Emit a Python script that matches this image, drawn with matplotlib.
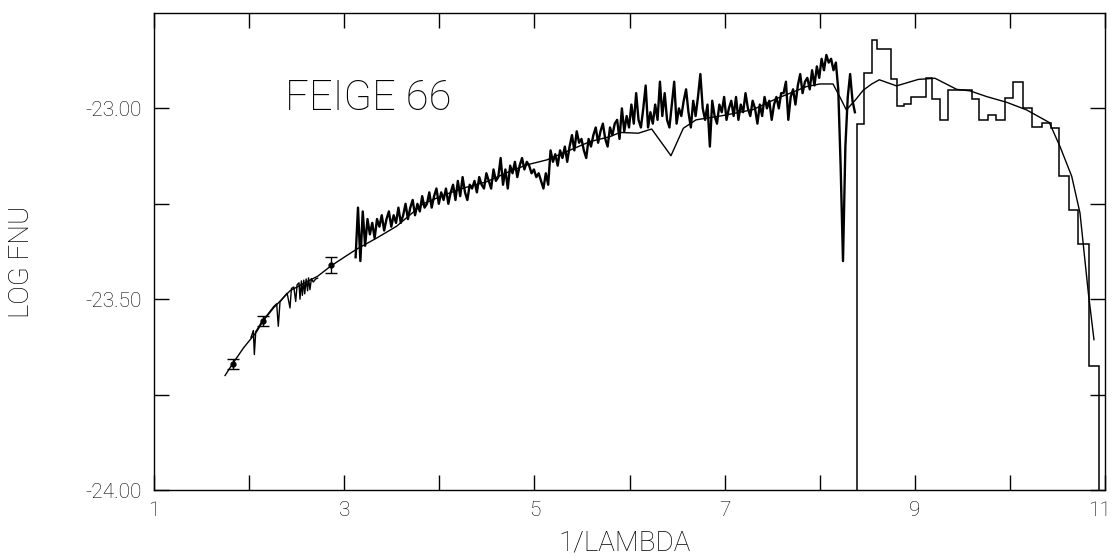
import numpy as np
import matplotlib
matplotlib.use("Agg")
import matplotlib.pyplot as plt
import matplotlib.transforms as mtransforms

plt.rcParams['font.family'] = ['Roboto', 'DejaVu Sans']
plt.rcParams['font.weight'] = 'light'

# ---------------- data ----------------
# model atmosphere curve
model_x = [1.747, 1.83, 1.94, 2.08, 2.15, 2.26, 2.43, 2.60, 2.72, 2.86, 3.00, 3.13,
           3.34, 3.55, 3.83, 4.04, 4.25, 4.50, 4.74, 4.92, 5.13, 5.34, 5.585, 5.795,
           5.90, 6.093, 6.233, 6.436, 6.566, 6.70, 7.00, 7.30, 7.54, 7.86, 8.00, 8.14,
           8.21, 8.28, 8.375, 8.459, 8.547, 8.627, 8.808, 9.037, 9.212, 9.44, 9.58,
           9.755, 9.966, 10.176, 10.414, 10.527, 10.65, 10.737, 10.825, 10.884]
model_y = [-23.700, -23.668, -23.628, -23.585, -23.556, -23.522, -23.478, -23.455,
           -23.440, -23.413, -23.390, -23.369, -23.340, -23.309, -23.250, -23.228,
           -23.209, -23.192, -23.165, -23.148, -23.135, -23.113, -23.087, -23.074,
           -23.063, -23.065, -23.054, -23.124, -23.052, -23.030, -23.018, -23.003,
           -22.975, -22.943, -22.936, -22.936, -22.969, -23.004, -22.978, -22.952,
           -22.936, -22.925, -22.941, -22.924, -22.921, -22.950, -22.954, -22.969,
           -22.984, -23.004, -23.037, -23.100, -23.178, -23.274, -23.484, -23.606]

# optical spectrum
opt_x = [2.02, 2.045, 2.055, 2.07, 2.10, 2.14, 2.18, 2.22, 2.26, 2.29, 2.307, 2.325,
         2.36, 2.40, 2.43, 2.445, 2.47, 2.49, 2.505, 2.525, 2.535, 2.55, 2.56, 2.575,
         2.585, 2.60, 2.615, 2.625, 2.64, 2.655, 2.675, 2.70, 2.72]
opt_y = [-23.600, -23.582, -23.645, -23.585, -23.573, -23.556, -23.545, -23.532,
         -23.519, -23.512, -23.571, -23.507, -23.496, -23.484, -23.523, -23.472,
         -23.468, -23.506, -23.462, -23.457, -23.500, -23.452, -23.490, -23.450,
         -23.486, -23.447, -23.478, -23.444, -23.475, -23.446, -23.455, -23.447,
         -23.445]

# IUE ultraviolet spectrum (grid 3.12 .. 8.37 step 0.025)
iue_x = np.linspace(3.12, 8.37, 211)
iue_y = [
    -23.39, -23.26, -23.40, -23.27, -23.36, -23.29, -23.33, -23.30, -23.34, -23.29,
    -23.31, -23.28, -23.32, -23.29, -23.27, -23.31, -23.28, -23.30, -23.26, -23.30,
    -23.28, -23.25, -23.29, -23.26, -23.24, -23.28, -23.25, -23.27, -23.23, -23.26,
    -23.25, -23.22, -23.26, -23.23, -23.21, -23.25, -23.22, -23.24, -23.21, -23.25,
    -23.22, -23.20, -23.24, -23.19, -23.23, -23.18, -23.22, -23.24, -23.20, -23.21,
    -23.19, -23.22, -23.18, -23.20, -23.21, -23.17, -23.19, -23.21, -23.16, -23.19,
    -23.18, -23.13, -23.20, -23.16, -23.21, -23.15, -23.17, -23.14, -23.18, -23.15,
    -23.13, -23.16, -23.14, -23.15, -23.17, -23.16, -23.18, -23.17, -23.19, -23.21,
    -23.17, -23.20, -23.11, -23.14, -23.12, -23.15, -23.11, -23.13, -23.10, -23.14,
    -23.10, -23.07, -23.11, -23.06, -23.09, -23.08, -23.11, -23.13, -23.08, -23.10,
    -23.07, -23.05, -23.09, -23.06, -23.04, -23.08, -23.10, -23.05, -23.07, -23.04,
    -23.03, -23.08, -23.00, -23.06, -23.02, -23.05, -22.99, -23.04, -22.96, -23.03,
    -23.05, -23.00, -22.94, -23.05, -23.01, -23.04, -22.99, -23.03, -22.93, -23.02,
    -22.96, -23.03, -23.05, -22.99, -22.93, -23.04, -23.00, -23.02, -22.98, -22.95,
    -23.01, -23.05, -22.98, -23.02, -22.97, -22.91, -23.00, -23.03, -22.99, -23.10,
    -22.98, -23.02, -23.04, -22.99, -23.01, -22.97, -23.03, -23.00, -22.98, -23.02,
    -22.97, -23.03, -22.99, -23.01, -22.96, -23.00, -23.02, -22.98, -23.00, -23.04,
    -22.99, -23.02, -22.97, -23.00, -22.98, -23.03, -22.99, -22.97, -23.00, -22.96,
    -22.96, -22.93, -23.03, -22.97, -22.95, -22.99, -22.94, -22.91, -22.96, -22.93,
    -22.92, -22.95, -22.90, -22.94, -22.89, -22.92, -22.87, -22.90, -22.86, -22.88,
    -22.87, -22.90, -22.88, -22.95, -23.15, -23.40, -23.10, -22.97, -22.91, -22.98,
    -23.01,
]

# far-UV binned spectrum (histogram)
hist_edges = [8.396, 8.469, 8.547, 8.599, 8.750, 8.816, 8.886, 8.957, 9.118, 9.185,
              9.265, 9.353, 9.598, 9.679, 9.766, 9.854, 9.949, 10.036, 10.134,
              10.229, 10.334, 10.429, 10.520, 10.625, 10.720, 10.835, 10.941]
hist_levels = [-23.041, -22.906, -22.821, -22.844, -22.924, -22.995, -22.988,
               -22.971, -22.921, -22.976, -23.030, -22.952, -22.976, -23.030,
               -23.017, -23.030, -22.973, -22.930, -22.998, -23.048, -23.039,
               -23.052, -23.178, -23.266, -23.356, -23.674]

# photometric points with error bars
phot_x = [1.827, 2.142, 2.861]
phot_y = [-23.670, -23.558, -23.410]
phot_err = [0.013, 0.013, 0.021]

xticks = [1, 2, 3, 4, 5, 6, 7, 8, 9, 10, 11]
xticklabels = ['1', '', '3', '', '5', '', '7', '', '9', '', '11']
yticks = [-24.0, -23.75, -23.5, -23.25, -23.0]
yticklabels = ['-24.00', '', '-23.50', '', '-23.00']

# ---------------- plot ----------------
fig = plt.figure(figsize=(11.12, 5.58), dpi=100)
ax = fig.add_axes([154 / 1112, 1 - 490 / 558, (1105 - 154) / 1112, (490 - 13) / 558])

ax.plot(model_x, model_y, color='black', lw=1.0)
ax.plot(opt_x, opt_y, color='black', lw=1.0)
ax.plot(iue_x, iue_y, color='black', lw=1.7)
ax.stairs(hist_levels, hist_edges, baseline=-24.0, color='black', lw=1.1)
ax.errorbar(phot_x, phot_y, yerr=phot_err, fmt='o', color='black', ms=3.5,
            capsize=4, elinewidth=1.0, capthick=1.0)

ax.set_xlim(1, 11)
ax.set_ylim(-24.0, -22.75)
ax.set_xticks(xticks)
ax.set_xticklabels(xticklabels)
ax.set_yticks(yticks)
ax.set_yticklabels(yticklabels)
ax.tick_params(direction='in', length=10.5, width=1.0, top=True, right=True,
               labelsize=15, pad=9, colors='black')
ax.tick_params(axis='x', pad=8)
for s in ax.spines.values():
    s.set_linewidth(1.0)

# keep the last x label inside the canvas
last = ax.get_xticklabels()[-1]
last.set_transform(last.get_transform() +
                   mtransforms.ScaledTranslation(-5 / 100, 0, fig.dpi_scale_trans))

ax.text(3.25, -23.004, 'FEIGE 66', fontsize=30, ha='center', va='baseline',
        fontweight='light')

fig.text(22 / 1112, 1 - 262 / 558, 'LOG FNU', rotation=90, fontsize=20,
         ha='center', va='center', fontweight='light')
fig.text(625 / 1112, 1 - 543 / 558, '1/LAMBDA', fontsize=20, ha='center',
         va='center', fontweight='light')

fig.savefig('out.png', dpi=100)
